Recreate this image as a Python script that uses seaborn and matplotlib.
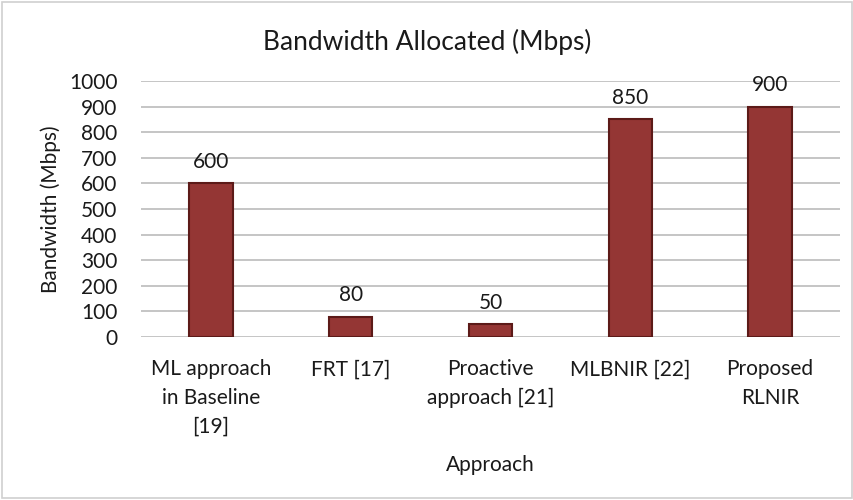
import matplotlib
matplotlib.use("Agg")
import matplotlib.pyplot as plt
import seaborn as sns
from matplotlib.patches import Rectangle

# ---- data ----
approaches = ["ML approach\nin Baseline\n[19]", "FRT [17]", "Proactive\napproach [21]",
              "MLBNIR [22]", "Proposed\nRLNIR"]
bandwidth = [600, 80, 50, 850, 900]
y_ticks = list(range(0, 1001, 100))

sns.set_theme(style="white")
plt.rcParams["font.family"] = ["Lato", "DejaVu Sans"]

fig = plt.figure(figsize=(8.54, 5.0), dpi=100)
ax = fig.add_axes([141 / 854, 1 - 337 / 500, 699 / 854, 256 / 500])

sns.barplot(x=approaches, y=bandwidth, color="#943634", saturation=1,
            width=0.31, edgecolor="#5c1a18", linewidth=1.5, ax=ax, zorder=3)

for i, v in enumerate(bandwidth):
    ax.annotate(f"{v}", (i, v), xytext=(0, 8), textcoords="offset points",
                ha="center", va="bottom", fontsize=15, color="#1a1a1a")

ax.set_ylim(0, 1000)
ax.set_yticks(y_ticks)
ax.yaxis.grid(True, color="#c0c0c0", linewidth=1.3, zorder=0)
ax.set_axisbelow(True)
for s in ax.spines.values():
    s.set_visible(False)
ax.tick_params(axis="both", length=0, labelsize=15, colors="#1a1a1a")
ax.tick_params(axis="x", pad=16)
ax.tick_params(axis="y", pad=17)
for lbl in ax.get_xticklabels():
    lbl.set_linespacing(1.55)

ax.set_xlabel("Approach", fontsize=15, color="#1a1a1a", labelpad=13)
ax.set_ylabel("Bandwidth (Mbps)", fontsize=15, color="#1a1a1a", labelpad=6)
fig.text(0.5, 1 - 42 / 500, "Bandwidth Allocated (Mbps)", ha="center", va="center",
         fontsize=19, color="#1a1a1a")

# chart border
fig.patches.append(Rectangle((0.002, 0.004), 0.996, 0.992, transform=fig.transFigure,
                             fill=False, edgecolor="#d0d0d0", linewidth=1.2))

fig.savefig("out.png", dpi=100)
